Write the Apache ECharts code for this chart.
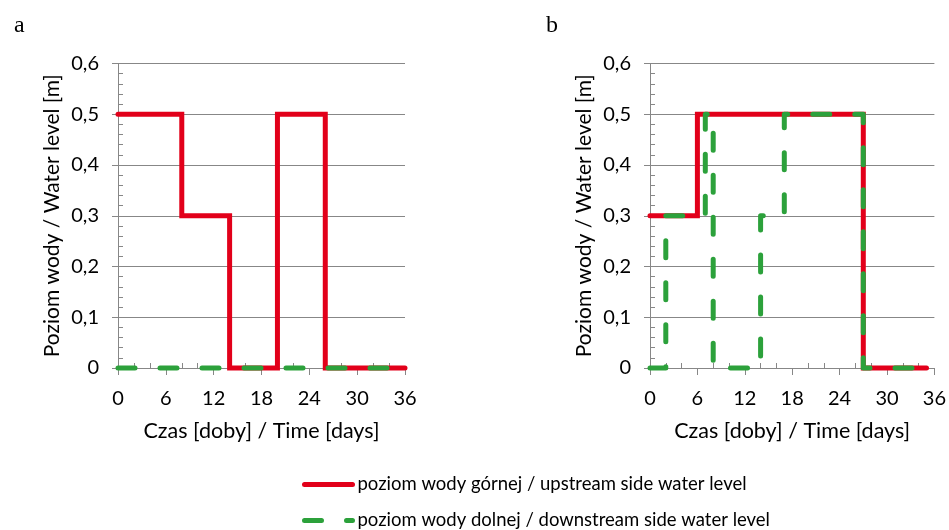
<!DOCTYPE html>
<html>
<head>
<meta charset="utf-8">
<script src="https://cdn.jsdelivr.net/npm/echarts@6/dist/echarts.min.js"></script>
<style>html,body{margin:0;padding:0;background:#fff}#c{width:949px;height:530px}</style>
</head>
<body>
<div id="c"></div>
<script>
// Panel a
const aUpX = [0, 8, 8, 14, 14, 20, 20, 26, 26, 36];
const aUpY = [0.5, 0.5, 0.3, 0.3, 0, 0, 0.5, 0.5, 0, 0];
const aDownX = [0, 36];
const aDownY = [0, 0];
// Panel b
const bUpX = [0, 6, 6, 27, 27, 35];
const bUpY = [0.3, 0.3, 0.5, 0.5, 0, 0];
const bDownX = [0, 2, 2, 7, 7, 8, 8, 14, 14, 17, 17, 27, 27, 35];
const bDownY = [0, 0, 0.3, 0.3, 0.5, 0.5, 0, 0, 0.3, 0.3, 0.5, 0.5, 0, 0];
const xTicks = [0, 6, 12, 18, 24, 30, 36];
const yTicks = [0, 0.1, 0.2, 0.3, 0.4, 0.5, 0.6];
const upName = 'poziom wody górnej / upstream side water level';
const downName = 'poziom wody dolnej / downstream side water level';
const panelLabels = ['a', 'b'];

const pair = (xs, ys) => xs.map((x, i) => [x, ys[i]]);
const FONT = 'Lato';
const AX = '#878787';
const RED = '#e2001a';
const GREEN = '#2ca13b';

const grids = [
  { left: 118, width: 287, top: 63.5, height: 304.5 },
  { left: 650, width: 287, top: 63.5, height: 304.5 }
];
const xAxes = [], yAxes = [];
grids.forEach((g, i) => {
  xAxes.push({
    type: 'value', gridIndex: i, min: xTicks[0], max: xTicks[xTicks.length - 1], interval: 6,
    name: 'Czas [doby] / Time [days]', nameLocation: 'middle', nameGap: 52,
    nameTextStyle: { fontFamily: FONT, fontSize: 21.5, color: '#000' },
    axisLine: { show: true, onZero: false, lineStyle: { color: AX, width: 1 } },
    axisTick: { show: true, length: 7, lineStyle: { color: AX } },
    axisLabel: { fontFamily: FONT, fontSize: 20, color: '#000', margin: 21 },
    splitLine: { show: false }
  });
  xAxes.push({
    type: 'value', gridIndex: i, min: 0, max: 36, interval: 6, position: 'bottom',
    axisLine: { show: false }, axisLabel: { show: false },
    axisTick: { show: false, inside: true },
    minorTick: { show: true, splitNumber: 3, length: 5, lineStyle: { color: AX } },
    splitLine: { show: false }
  });
  yAxes.push({
    type: 'value', gridIndex: i, min: yTicks[0], max: yTicks[yTicks.length - 1], interval: 0.1,
    name: 'Poziom wody / Water level [m]', nameLocation: 'middle', nameGap: 55,
    nameTextStyle: { fontFamily: FONT, fontSize: 21, color: '#000' },
    axisLine: { show: true, lineStyle: { color: AX, width: 1 } },
    axisTick: { show: true, length: 6, lineStyle: { color: AX } },
    axisLabel: { fontFamily: FONT, fontSize: 20, color: '#000', margin: 19,
      formatter: v => v === 0 ? '0' : v.toFixed(1).replace('.', ',') },
    splitLine: { show: true, lineStyle: { color: AX, width: 1 } }
  });
  yAxes.push({
    type: 'value', gridIndex: i, min: 0, max: 0.6, interval: 0.1, position: 'left',
    axisLine: { show: false }, axisLabel: { show: false },
    axisTick: { show: false, inside: true },
    minorTick: { show: true, splitNumber: 5, length: 5, lineStyle: { color: AX } },
    splitLine: { show: false }
  });
});

const upStyle = { color: RED, width: 5, cap: 'round', join: 'miter' };
const downStyle = { color: GREEN, width: 5, type: [17, 25], cap: 'round', join: 'round' };
const mk = (name, xi, yi, data, ls, z) => ({
  name, type: 'line', xAxisIndex: xi, yAxisIndex: yi, data, showSymbol: false, symbol: 'none',
  lineStyle: ls, itemStyle: { color: ls.color }, z, animation: false, clip: false
});
const legendBase = {
  orient: 'vertical', left: 302, padding: 0, itemWidth: 48, itemHeight: 10,
  itemStyle: { color: 'rgba(0,0,0,0)', borderWidth: 0, opacity: 0 },
  lineStyle: { width: 5, cap: 'round' },
  textStyle: { fontFamily: FONT, fontSize: 18.5, color: '#000' }
};

const chart = echarts.init(document.getElementById('c'));
chart.setOption({
  animation: false,
  title: [
    { text: panelLabels[0], left: 9, top: 9, textStyle: { fontFamily: 'Liberation Serif', fontSize: 24, fontWeight: 'normal', color: '#000' } },
    { text: panelLabels[1], left: 541, top: 9, textStyle: { fontFamily: 'Liberation Serif', fontSize: 24, fontWeight: 'normal', color: '#000' } }
  ],
  grid: grids,
  xAxis: xAxes,
  yAxis: yAxes,
  legend: [
    Object.assign({}, legendBase, { top: 475, data: [upName] }),
    Object.assign({}, legendBase, { top: 511, data: [downName] })
  ],
  series: [
    mk(upName, 0, 0, pair(aUpX, aUpY), upStyle, 2),
    mk(downName, 0, 0, pair(aDownX, aDownY), downStyle, 3),
    mk(upName, 2, 2, pair(bUpX, bUpY), upStyle, 2),
    mk(downName, 2, 2, pair(bDownX, bDownY), downStyle, 3)
  ]
});
</script>
</body>
</html>
